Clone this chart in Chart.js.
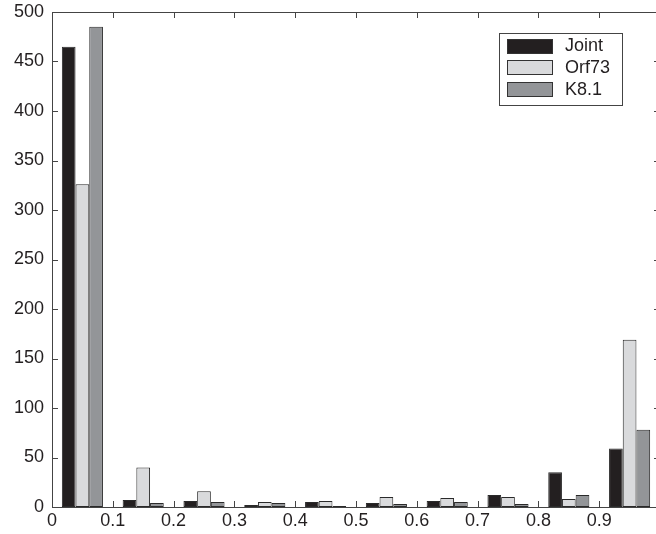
<!DOCTYPE html>
<html>
<head>
<meta charset="utf-8">
<script src="https://cdn.jsdelivr.net/npm/chart.js@4/dist/chart.umd.min.js"></script>
<style>
  html, body { margin: 0; padding: 0; background: #fff; overflow: hidden; }
  canvas { display: block; }
</style>
</head>
<body>
<canvas id="hist" width="662" height="534"></canvas>
<script>
// histogram bin centres (bins of width 0.1 from 0 to 1)
const binCenters = [0.05, 0.15, 0.25, 0.35, 0.45, 0.55, 0.65, 0.75, 0.85, 0.95];
const jointCounts = [465, 7, 6, 2, 5, 4, 6, 12, 35, 59];
const orf73Counts = [326, 40, 16, 5, 6, 10, 9, 10, 8, 169];
const k81Counts = [485, 4, 5, 4, 1, 3, 5, 3, 12, 78];
const seriesNames = ["Joint", "Orf73", "K8.1"];
const seriesColors = ["#231f20", "#d9dadc", "#939598"];
const xTicks = [0, 0.1, 0.2, 0.3, 0.4, 0.5, 0.6, 0.7, 0.8, 0.9, 1];
const yTicks = [0, 50, 100, 150, 200, 250, 300, 350, 400, 450, 500];

const FONT = "'Liberation Sans', Arial, sans-serif";
const INK = "#231f20";

function toPoints(vals) {
    return vals.map((v, i) => ({ x: binCenters[i], y: v }));
}

// MATLAB-like box with inward ticks, plus legend box
const boxPlugin = {
    id: "matlabBox",
    afterDatasetsDraw(chart) {
        const ctx = chart.ctx;
        const a = chart.chartArea;
        const xs = chart.scales.x;
        const ys = chart.scales.y;
        const tl = 6;
        ctx.save();
        ctx.strokeStyle = "#444";
        ctx.lineWidth = 1;
        ctx.strokeRect(Math.round(a.left) + 0.5, Math.round(a.top) + 0.5,
            Math.round(a.right - a.left), Math.round(a.bottom - a.top));
        ctx.beginPath();
        xTicks.forEach(v => {
            const px = Math.round(xs.getPixelForValue(v)) + 0.5;
            ctx.moveTo(px, a.bottom); ctx.lineTo(px, a.bottom - tl);
            ctx.moveTo(px, a.top); ctx.lineTo(px, a.top + tl);
        });
        yTicks.forEach(v => {
            const py = Math.round(ys.getPixelForValue(v)) + 0.5;
            ctx.moveTo(a.left, py); ctx.lineTo(a.left + tl, py);
            ctx.moveTo(a.right, py); ctx.lineTo(a.right - tl, py);
        });
        ctx.stroke();

        // legend
        const lx = 499, ly = 33, lw = 123, lh = 72;
        ctx.fillStyle = "#fff";
        ctx.fillRect(lx, ly, lw, lh);
        ctx.strokeStyle = "#444";
        ctx.strokeRect(lx + 0.5, ly + 0.5, lw, lh);
        ctx.font = "18px " + FONT;
        ctx.textBaseline = "middle";
        ctx.textAlign = "left";
        chart.data.datasets.forEach((ds, i) => {
            const cy = 45.5 + i * 21.7;
            ctx.fillStyle = ds.backgroundColor;
            ctx.fillRect(507, Math.round(cy - 7), 45, 14);
            ctx.strokeStyle = "#333";
            ctx.strokeRect(507.5, Math.round(cy - 7) + 0.5, 45, 14);
            ctx.fillStyle = INK;
            ctx.fillText(ds.label, 565, cy + 1);
        });
        ctx.restore();
    }
};

new Chart(document.getElementById("hist"), {
    type: "bar",
    data: {
        datasets: [
            { label: seriesNames[0], data: toPoints(jointCounts), backgroundColor: seriesColors[0] },
            { label: seriesNames[1], data: toPoints(orf73Counts), backgroundColor: seriesColors[1] },
            { label: seriesNames[2], data: toPoints(k81Counts), backgroundColor: seriesColors[2] }
        ]
    },
    options: {
        responsive: false,
        animation: false,
        layout: { padding: { top: 12, right: 2, left: 0, bottom: 0 } },
        datasets: {
            bar: {
                borderColor: "#2a2a2a",
                borderWidth: 1,
                borderSkipped: false,
                categoryPercentage: 0.676,
                barPercentage: 1
            }
        },
        plugins: {
            legend: { display: false },
            tooltip: { enabled: false }
        },
        scales: {
            x: {
                type: "linear",
                min: 0,
                max: 1,
                offset: false,
                afterFit(scale) {
                    scale.height = 27;
                    scale.paddingLeft = 0;
                    scale.paddingRight = 0;
                },
                afterBuildTicks(scale) { scale.ticks = xTicks.map(v => ({ value: v })); },
                grid: { display: false, drawTicks: false, offset: false },
                border: { display: false },
                ticks: {
                    autoSkip: false,
                    maxRotation: 0,
                    padding: 3,
                    color: INK,
                    font: { family: FONT, size: 18 },
                    callback: v => (v === 1 ? "" : String(Math.round(v * 10) / 10))
                }
            },
            y: {
                min: 0,
                max: 500,
                afterFit(scale) {
                    scale.width = 52;
                    scale.paddingTop = 0;
                    scale.paddingBottom = 0;
                },
                afterBuildTicks(scale) { scale.ticks = yTicks.map(v => ({ value: v })); },
                grid: { display: false, drawTicks: false },
                border: { display: false },
                ticks: {
                    padding: 8,
                    color: INK,
                    font: { family: FONT, size: 18 }
                }
            }
        }
    },
    plugins: [boxPlugin]
});
</script>
</body>
</html>
